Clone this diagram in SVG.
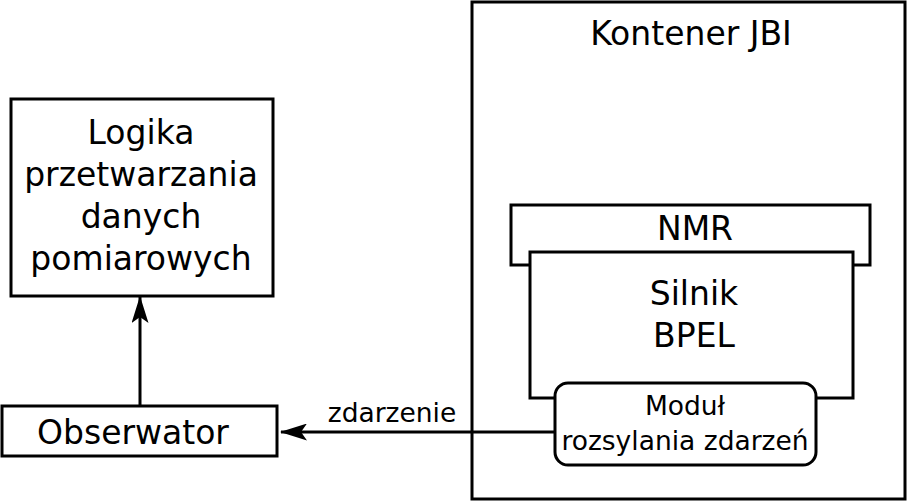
<svg xmlns="http://www.w3.org/2000/svg" width="908" height="502" viewBox="0 0 908 502">
<defs>
<style>
.box{fill:#fff;stroke:#000;stroke-width:3}
.t{font-family:"DejaVu Sans",sans-serif;font-size:33px;text-anchor:middle;fill:#000}
.s{font-family:"DejaVu Sans",sans-serif;font-size:26.5px;text-anchor:middle;fill:#000}
.c{stroke:#000;stroke-width:3;fill:none}
</style>
<marker id="ah" markerWidth="27" markerHeight="17" refX="26" refY="8.5" orient="auto" markerUnits="userSpaceOnUse" viewBox="0 0 27 17">
<path d="M27,8.5 L0,0 L6,8.5 L0,17 Z" fill="#000"/>
</marker>
</defs>
<rect width="908" height="502" fill="#fff"/>
<g id="kontener">
<rect class="box" x="472" y="2" width="433" height="497"/>
<text class="t" x="691" y="45">Kontener JBI</text>
</g>
<g id="logika">
<rect class="box" x="11" y="99" width="262" height="197"/>
<text class="t" x="141" y="144">Logika</text>
<text class="t" x="141" y="186">przetwarzania</text>
<text class="t" x="141" y="228">danych</text>
<text class="t" x="141" y="270">pomiarowych</text>
</g>
<g id="observator">
<rect class="box" x="2" y="406" width="275" height="50"/>
<text class="t" x="133" y="444">Obserwator</text>
</g>
<g id="nmr">
<rect class="box" x="511" y="205" width="359" height="60"/>
<text class="t" x="695" y="240">NMR</text>
</g>
<g id="silnik">
<rect class="box" x="530" y="252" width="323" height="146"/>
<text class="t" x="694" y="305">Silnik</text>
<text class="t" x="694" y="347">BPEL</text>
</g>
<g id="modul">
<rect class="box" x="555" y="383" width="261" height="82" rx="13"/>
<text class="s" x="685" y="415">Moduł</text>
<text class="s" x="685" y="450">rozsylania zdarzeń</text>
</g>
<g id="connectors">
<line class="c" x1="555" y1="432" x2="281" y2="432" marker-end="url(#ah)"/>
<line class="c" x1="140" y1="406" x2="140" y2="297" marker-end="url(#ah)"/>
<text class="s" x="392" y="422">zdarzenie</text>
</g>
</svg>
